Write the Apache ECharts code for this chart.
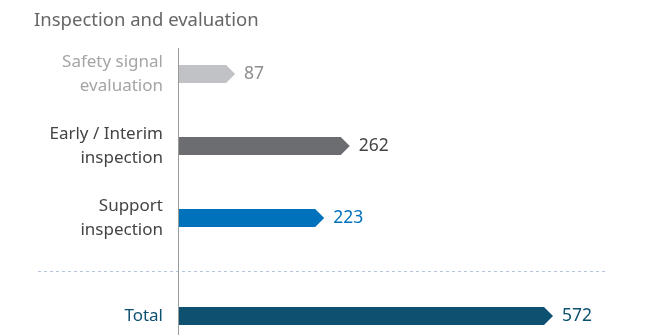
<!DOCTYPE html>
<html>
<head>
<meta charset="utf-8">
<script src="https://cdn.jsdelivr.net/npm/echarts@6/dist/echarts.min.js"></script>
<style>
  html, body { margin: 0; padding: 0; background: #fff; }
  #chart { width: 647px; height: 335px; }
</style>
</head>
<body>
<div id="chart"></div>
<script>
// Inspection counts by type, plus the overall total
const titleText = 'Inspection and evaluation';
const categories = ['Safety signal\nevaluation', 'Early / Interim\ninspection', 'Support\ninspection'];
const values = [87, 262, 223];
const totalCategories = ['Total'];
const totalValues = [572];

// Per-row colours: bar fill, category text, value text
const barColors = ['#c1c2c5', '#6c6d71', '#0071bb'];
const labelColors = ['#a5a5a5', '#444444', '#444444'];
const valueColors = ['#8e8e8e', '#444444', '#0071bb'];
const totalColor = '#0e506f';

const FONT = '"Noto Sans", "Open Sans", sans-serif';
const axisMax = Math.max(...values, ...totalValues);

// Arrow-ended bar drawn from the axis origin to the value
function arrowBar(fills, textColors) {
  return function (params, api) {
    const v = api.value(0);
    const c = api.value(1);
    const start = api.coord([0, c]);
    const end = api.coord([v, c]);
    const h = 18, tip = 9;
    const y = end[1];
    return {
      type: 'group',
      children: [
        {
          type: 'polygon',
          shape: {
            points: [
              [start[0], y - h / 2],
              [end[0] - tip, y - h / 2],
              [end[0], y],
              [end[0] - tip, y + h / 2],
              [start[0], y + h / 2]
            ]
          },
          style: { fill: fills[params.dataIndex] }
        },
        {
          type: 'text',
          x: end[0] + 9,
          y: y,
          style: {
            text: String(v),
            fill: textColors[params.dataIndex],
            font: '17.5px ' + FONT,
            textVerticalAlign: 'middle',
            verticalAlign: 'middle'
          }
        }
      ]
    };
  };
}

function richLabel(colors, list) {
  const rich = {};
  colors.forEach((col, i) => {
    rich['c' + i] = { color: col, fontSize: 17, lineHeight: 24, fontFamily: FONT, align: 'right' };
  });
  return {
    fontSize: 17,
    lineHeight: 24,
    fontFamily: FONT,
    margin: 15,
    align: 'right',
    rich: rich,
    formatter: function (val) {
      const i = list.indexOf(val);
      return val.split('\n').map(line => '{c' + i + '|' + line + '}').join('\n');
    }
  };
}

const chart = echarts.init(document.getElementById('chart'), null, { renderer: 'canvas' });

chart.setOption({
  animation: false,
  backgroundColor: '#ffffff',
  title: {
    text: titleText,
    left: 29,
    top: 6,
    textStyle: { fontSize: 18.5, fontWeight: 'normal', color: '#666666', fontFamily: FONT }
  },
  grid: [
    { left: 178, width: 375, top: 38, height: 216 },
    { left: 178, width: 375, top: 298, height: 36 }
  ],
  xAxis: [
    { gridIndex: 0, type: 'value', min: 0, max: axisMax, show: false },
    { gridIndex: 1, type: 'value', min: 0, max: axisMax, show: false }
  ],
  yAxis: [
    {
      gridIndex: 0, type: 'category', inverse: true, data: categories,
      axisLine: { show: false }, axisTick: { show: false }, splitLine: { show: false },
      axisLabel: richLabel(labelColors, categories)
    },
    {
      gridIndex: 1, type: 'category', inverse: true, data: totalCategories,
      axisLine: { show: false }, axisTick: { show: false }, splitLine: { show: false },
      axisLabel: richLabel([totalColor], totalCategories)
    }
  ],
  graphic: [
    {
      type: 'line',
      shape: { x1: 178.5, y1: 48, x2: 178.5, y2: 335 },
      style: { stroke: '#9a9a9a', lineWidth: 1 },
      z: 10
    },
    {
      type: 'line',
      shape: { x1: 38, y1: 271.5, x2: 608, y2: 271.5 },
      style: { stroke: '#b3c6de', lineWidth: 1, lineDash: [3, 3] }
    }
  ],
  series: [
    {
      type: 'custom',
      xAxisIndex: 0, yAxisIndex: 0,
      renderItem: arrowBar(barColors, valueColors),
      encode: { x: 0, y: 1 },
      data: values.map((v, i) => [v, i])
    },
    {
      type: 'custom',
      xAxisIndex: 1, yAxisIndex: 1,
      renderItem: arrowBar([totalColor], [totalColor]),
      encode: { x: 0, y: 1 },
      data: totalValues.map((v, i) => [v, i])
    }
  ]
});
</script>
</body>
</html>
